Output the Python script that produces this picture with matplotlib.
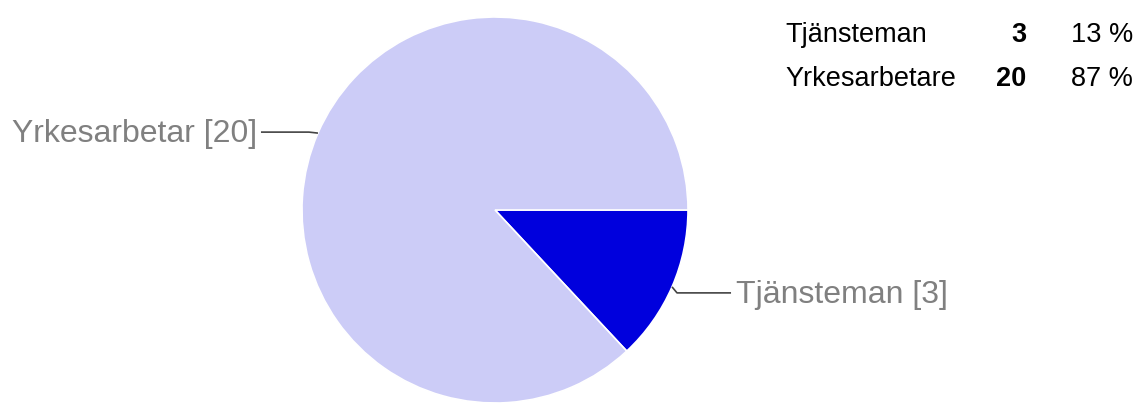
import matplotlib.pyplot as plt
import numpy as np

plt.rcParams['font.family'] = ['Liberation Sans', 'DejaVu Sans']

categories = ['Tjänsteman', 'Yrkesarbetare']
pie_labels = ['Tjänsteman [3]', 'Yrkesarbetar [20]']
counts = [3, 20]
colors = ['#0000dd', '#ccccf7']

W, H = 1137, 403
fig = plt.figure(figsize=(W / 100, H / 100), dpi=100)
ax = fig.add_axes([0, 0, 1, 1])

cx, cy, r = 495, H - 210, 193
wedges, _ = ax.pie(counts, colors=colors, startangle=0, counterclock=False,
                   center=(cx, cy), radius=r, frame=True,
                   wedgeprops=dict(edgecolor='white', linewidth=1.2))
ax.set_xlim(0, W)
ax.set_ylim(0, H)
ax.set_aspect('equal')
ax.axis('off')

# leader lines + labels
for w, lab in zip(wedges, pie_labels):
    mid = np.deg2rad((w.theta1 + w.theta2) / 2)
    px, py = cx + r * np.cos(mid), cy + r * np.sin(mid)
    if np.cos(mid) > 0:
        ex, ey = px + 5, py - 6
        hx = ex + 54
        ax.text(hx + 5, ey - 2, lab, ha='left', va='center', fontsize=23,
                color='#808080')
    else:
        ex, ey = px - 9, py + 1
        hx = ex - 48
        ax.text(hx - 4, ey - 2, lab, ha='right', va='center', fontsize=23,
                color='#808080')
    ax.plot([px, ex, hx], [py, ey, ey], color='#444444', lw=1.2,
            solid_capstyle='butt')

# table legend
rows_y = [H - 35, H - 79]
for y, name, n in zip(rows_y, categories, counts):
    pct = round(100 * n / sum(counts))
    fig.text(785 / W, y / H, name, ha='left', va='center', fontsize=19.5)
    fig.text(1026 / W, y / H, str(n), ha='right', va='center', fontsize=19.5,
             fontweight='bold')
    fig.text(1133 / W, y / H, f'{pct} %', ha='right', va='center',
             fontsize=19.5)

fig.savefig('out.png', dpi=100, facecolor='white')
